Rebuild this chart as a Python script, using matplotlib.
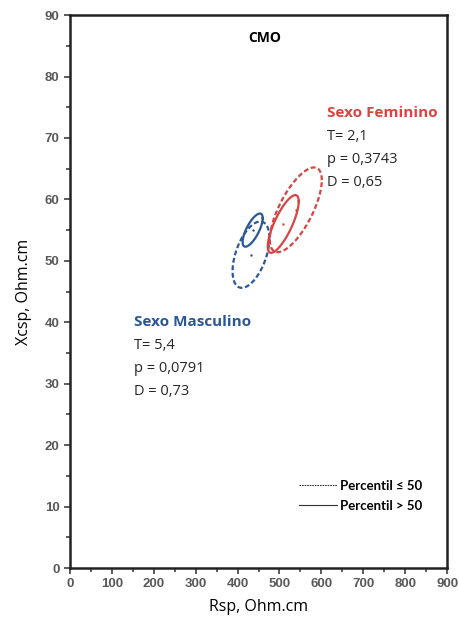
import numpy as np
import matplotlib
matplotlib.use("Agg")
import matplotlib.pyplot as plt

# ellipse parameters: centre, spread in x and y, correlation
groups = ["Masc <=50", "Masc >50", "Fem <=50", "Fem >50"]
mean_x = [432, 436, 539, 509]
mean_y = [51.0, 55.0, 58.3, 56.0]
sd_x = [44, 24, 62, 37]
sd_y = [5.4, 2.7, 6.9, 4.7]
corr = [0.5, 0.72, 0.70, 0.78]
colors = ["#2B5797", "#2B5797", "#D64541", "#D64541"]
styles = ["--", "-", "--", "-"]

fem_lines = ["T= 2,1", "p = 0,3743", "D = 0,65"]
masc_lines = ["T= 5,4", "p = 0,0791", "D = 0,73"]

fig = plt.figure(figsize=(4.59, 6.28), dpi=100)
ax = fig.add_axes([0.1525, 0.0955, 0.8215, 0.8805])

t = np.linspace(0, 2 * np.pi, 200)
for i in range(len(groups)):
    x = mean_x[i] + sd_x[i] * np.cos(t)
    y = mean_y[i] + sd_y[i] * (corr[i] * np.cos(t) + np.sqrt(1 - corr[i] ** 2) * np.sin(t))
    if styles[i] == "--":
        ax.plot(x, y, color=colors[i], lw=1.6, dashes=(2.2, 1.2))
    else:
        ax.plot(x, y, color=colors[i], lw=1.6)
    ax.plot(mean_x[i], mean_y[i], ".", color=colors[i], ms=1.5)

ax.set_xlim(0, 900)
ax.set_ylim(0, 90)
ax.set_xticks(range(0, 901, 100))
ax.set_yticks(range(0, 91, 10))
ax.set_xticks(range(50, 900, 100), minor=True)
ax.set_yticks(range(5, 90, 10), minor=True)
ax.tick_params(which="both", direction="out", color="#404040", width=1.2)
ax.tick_params(which="major", length=4)
ax.tick_params(which="minor", length=3)
for lab in ax.get_xticklabels() + ax.get_yticklabels():
    lab.set_fontfamily("Liberation Sans")
    lab.set_fontweight("bold")
    lab.set_fontsize(9.5)
    lab.set_color("#595959")
for s in ax.spines.values():
    s.set_linewidth(1.8)
    s.set_color("#222222")

ax.set_xlabel("Rsp, Ohm.cm", fontsize=11.5, family="Open Sans", labelpad=6)
ax.set_ylabel("Xcsp, Ohm.cm", fontsize=11.5, family="Open Sans", labelpad=9)

ax.text(465, 86.3, "CMO", fontsize=10, fontweight="bold", family="Open Sans",
        ha="center", va="center")

ax.text(613, 74.0, "Sexo Feminino", color="#D64541", fontsize=11,
        fontweight="bold", family="Open Sans", va="center")
for k, s in enumerate(fem_lines):
    ax.text(613, 70.2 - k * 3.75, s, fontsize=10.5, family="Open Sans",
            va="center", color="#262626")

ax.text(153, 40.1, "Sexo Masculino", color="#2B5797", fontsize=11,
        fontweight="bold", family="Open Sans", va="center")
for k, s in enumerate(masc_lines):
    ax.text(153, 36.3 - k * 3.75, s, fontsize=10.5, family="Open Sans",
            va="center", color="#262626")

h1, = ax.plot([], [], color="#333333", lw=0.8, dashes=(1.5, 0.8))
h2, = ax.plot([], [], color="#333333", lw=0.8)
leg = ax.legend([h1, h2], ["Percentil ≤ 50", "Percentil > 50"], loc="lower right",
                bbox_to_anchor=(0.965, 0.08), frameon=False, handlelength=2.9,
                handletextpad=0.2, labelspacing=0.6,
                prop={"family": "Lato", "weight": "bold", "size": 9.5})

fig.savefig("out.png", dpi=100)
